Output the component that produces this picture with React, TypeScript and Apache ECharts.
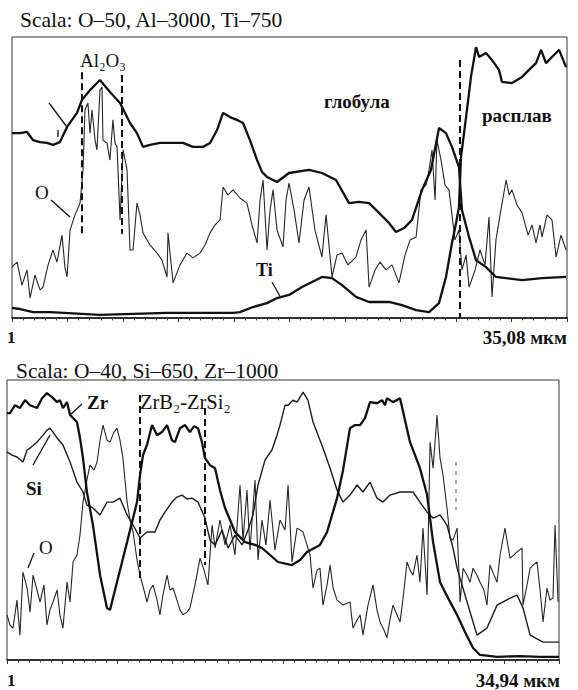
import React, { useEffect, useRef } from "react";
import * as echarts from "echarts";

// ---- data (x in µm along the scan, y in relative intensity 0..100) ----
const topScanLength = 35.08;
const bottomScanLength = 34.94;
const topTitle = "Scala: O–50, Al–3000, Ti–750";
const bottomTitle = "Scala: O–40, Si–650, Zr–1000";
const topEndLabel = "35,08 мкм";
const bottomEndLabel = "34,94 мкм";
const startLabel = "1";

const topAl: [number, number][] = [
  [0, 65.8], [0.51, 65.8], [0.95, 66.2], [1.33, 63.3], [1.77, 62.6], [2.21, 62.3], [2.59, 61.6],
  [3.03, 62.6], [3.48, 68.0], [4.11, 73.0], [4.42, 77.6], [4.93, 81.1], [5.56, 84.7], [6.19, 80.4],
  [6.83, 76.5], [7.46, 69.4], [7.9, 65.8], [8.28, 60.9], [8.72, 61.6], [9.36, 62.3], [9.99, 62.3],
  [10.81, 62.3], [11.44, 60.9], [12.07, 60.9], [12.52, 62.3], [12.96, 66.9], [13.34, 73.0],
  [13.78, 71.5], [14.22, 70.5], [14.6, 69.4], [15.04, 63.3], [15.49, 56.2], [15.8, 52.0],
  [16.12, 50.2], [16.75, 48.4], [17.51, 51.6], [18.77, 52.7], [19.59, 51.6], [20.48, 49.1],
  [21.3, 40.9], [21.93, 41.3], [22.57, 40.9], [23.2, 37.4], [23.83, 33.8], [24.27, 30.6],
  [24.78, 32.0], [25.28, 34.9], [25.92, 45.6], [26.48, 52.7], [26.99, 67.6], [27.43, 65.8],
  [27.81, 60.9], [28.25, 53.7], [28.44, 38.4], [28.89, 28.8], [29.33, 20.6], [29.96, 18.1],
  [30.59, 14.6], [32.24, 13.5], [33.5, 14.2], [35.02, 14.6],
];

const topTi: [number, number][] = [
  [0, 3.6], [0.51, 3.2], [1.33, 2.1], [2.4, 2.1], [5.56, 1.1], [9.8, 1.8], [13.97, 1.8],
  [14.41, 2.1], [15.23, 3.9], [16.12, 5.3], [16.75, 7.1], [17.51, 8.2], [18.33, 11.0],
  [19.22, 13.5], [19.59, 14.6], [20.23, 14.2], [20.86, 11.7], [21.74, 7.5], [22.57, 5.7],
  [23.83, 5.7], [24.65, 4.6], [25.54, 2.8], [26.36, 2.1], [26.99, 5.3], [27.43, 14.6],
  [27.81, 26.7], [28.07, 33.8], [28.25, 39.5], [28.38, 57.3], [28.7, 71.5], [29.01, 85.8],
  [29.33, 96.4], [29.52, 92.9], [29.96, 94.3], [30.34, 91.8], [30.78, 88.3], [30.97, 84.0],
  [31.6, 83.6], [32.24, 85.8], [32.68, 88.3], [33.12, 90.7], [33.44, 95.4], [33.75, 90.7],
  [34.13, 92.9], [34.58, 95.4], [35.02, 89.3],
];

const topO: [number, number][] = [
  [0, 18.2], [0.32, 19.9], [0.63, 11.7], [0.95, 17.1], [1.14, 7.1], [1.45, 15.3], [1.77, 10.0],
  [1.96, 11.0], [2.28, 18.9], [2.59, 24.2], [2.84, 19.9], [3.16, 29.5], [3.35, 17.8], [3.48, 14.6],
  [3.67, 31.3], [3.98, 36.7], [4.3, 40.9], [4.49, 52.7], [4.61, 74.0], [4.8, 76.5], [4.93, 65.8],
  [5.06, 74.0], [5.25, 63.3], [5.37, 59.8], [5.56, 81.1], [5.69, 82.2], [5.75, 63.3], [6.0, 62.3],
  [6.19, 56.2], [6.38, 70.5], [6.51, 62.3], [6.64, 60.9], [6.83, 34.9], [7.02, 59.8], [7.27, 52.7],
  [7.46, 24.2], [7.65, 24.2], [7.9, 40.9], [8.09, 36.7], [8.28, 30.3], [8.72, 26.0], [9.17, 23.1],
  [9.48, 20.6], [9.8, 14.6], [9.86, 30.3], [10.18, 12.5], [10.62, 18.9], [11.06, 23.1],
  [11.44, 21.4], [11.88, 23.1], [12.2, 26.0], [12.52, 30.3], [12.83, 33.1], [13.15, 34.9],
  [13.34, 46.6], [13.65, 43.8], [13.97, 45.6], [14.41, 42.7], [14.85, 40.9], [15.17, 33.1],
  [15.49, 26.7], [15.68, 42.0], [15.87, 49.1], [16.12, 24.2], [16.31, 38.4], [16.5, 45.6],
  [16.75, 31.3], [17.13, 25.3], [17.32, 42.0], [17.51, 48.0], [17.83, 38.4], [18.14, 26.7],
  [18.46, 42.0], [18.77, 46.6], [19.15, 31.3], [19.59, 21.7], [19.85, 36.7], [20.23, 14.6],
  [20.54, 22.4], [20.86, 23.1], [21.24, 18.9], [21.74, 21.7], [22.06, 27.8], [22.38, 31.3],
  [22.57, 11.0], [22.95, 17.1], [23.26, 19.9], [23.64, 17.1], [24.02, 18.9], [24.46, 12.5],
  [24.84, 22.4], [25.16, 27.8], [25.54, 28.8], [25.85, 45.6], [26.17, 47.3], [26.36, 52.7],
  [26.55, 59.8], [26.74, 42.0], [26.86, 63.3], [27.12, 56.2], [27.37, 47.3], [27.62, 45.6],
  [28.0, 27.8], [28.25, 31.3], [28.44, 17.1], [28.7, 22.4], [28.89, 11.0], [29.27, 17.1],
  [29.58, 24.2], [29.9, 18.9], [30.15, 35.9], [30.34, 7.5], [30.59, 27.8], [30.85, 36.7],
  [31.23, 49.1], [31.42, 43.8], [31.6, 45.6], [31.92, 40.2], [32.24, 37.4], [32.62, 29.5],
  [32.87, 33.1], [33.12, 26.7], [33.37, 33.1], [33.5, 28.8], [33.82, 36.7], [34.13, 34.9],
  [34.39, 21.7], [34.7, 29.5], [35.02, 24.2],
];

const bottomZr: [number, number][] = [
  [0, 88.2], [0.19, 88.2], [0.51, 91.0], [0.82, 90.0], [1.14, 92.8], [1.46, 91.0], [1.9, 90.0],
  [2.22, 93.5], [2.53, 95.3], [2.85, 93.9], [3.17, 92.1], [3.35, 92.8], [3.54, 90.0], [3.8, 92.1],
  [3.99, 87.5], [4.43, 85.0], [4.62, 79.3], [4.81, 72.1], [5.06, 60.0], [5.44, 48.2], [5.89, 30.3],
  [6.33, 18.6], [6.52, 17.9], [6.96, 27.8], [7.6, 42.1], [8.23, 56.4], [8.42, 66.0], [8.61, 73.2],
  [8.86, 76.8], [9.18, 83.9], [9.5, 80.3], [9.81, 81.4], [10.13, 83.9], [10.44, 78.5],
  [10.63, 77.8], [10.95, 82.8], [11.27, 83.9], [11.58, 81.4], [11.84, 83.5], [12.09, 82.8],
  [12.34, 77.8], [12.53, 72.1], [12.85, 69.6], [13.17, 68.5], [13.48, 60.7], [13.8, 54.3],
  [14.12, 50.0], [14.43, 45.7], [15.07, 42.1], [15.7, 41.1], [16.14, 40.0], [16.65, 37.5],
  [17.15, 35.0], [18.04, 33.9], [18.55, 35.7], [18.99, 38.6], [19.81, 41.1], [20.26, 45.7],
  [20.89, 57.8], [21.27, 67.8], [21.71, 82.8], [22.03, 83.9], [22.35, 83.9], [22.66, 86.4],
  [22.98, 92.1], [23.42, 91.7], [23.74, 92.8], [23.93, 91.0], [24.05, 93.5], [24.43, 92.1],
  [24.88, 93.5], [25.19, 85.7], [25.51, 77.8], [26.14, 68.5], [26.59, 58.9], [26.97, 42.1],
  [27.41, 27.8], [27.92, 22.1], [28.49, 16.1], [28.99, 10.0], [29.5, 4.3], [29.94, 1.8],
  [31.02, 1.1], [32.47, 1.4], [33.74, 1.1], [34.94, 1.1],
];

const bottomSi: [number, number][] = [
  [0, 74.3], [0.32, 73.2], [0.63, 72.5], [1.01, 70.7], [1.27, 75.0], [1.46, 75.7], [1.9, 77.8],
  [2.28, 80.3], [2.53, 82.1], [2.72, 82.8], [2.91, 81.4], [3.17, 79.3], [3.54, 76.8], [3.99, 70.7],
  [4.43, 63.5], [4.81, 60.0], [5.06, 55.3], [5.44, 54.3], [5.89, 51.8], [6.33, 56.4], [6.71, 56.4],
  [7.15, 57.8], [7.6, 51.8], [7.98, 48.2], [8.42, 43.6], [8.86, 45.7], [9.37, 45.7], [9.68, 50.0],
  [10.0, 52.8], [10.44, 56.4], [10.76, 58.2], [11.08, 58.9], [11.39, 57.5], [11.71, 57.8],
  [12.09, 56.4], [12.53, 50.7], [12.85, 42.8], [13.17, 41.1], [13.61, 46.4], [14.0, 40.0],
  [14.43, 44.6], [14.88, 41.1], [15.26, 46.4], [15.57, 51.8], [15.89, 62.5], [16.33, 71.4],
  [16.77, 75.0], [17.09, 80.3], [17.28, 83.9], [17.6, 91.0], [17.79, 91.0], [18.1, 92.8],
  [18.36, 92.1], [18.74, 95.7], [19.05, 92.8], [19.37, 85.0], [19.69, 80.3], [20.0, 75.7],
  [20.45, 68.5], [20.89, 60.7], [21.27, 56.4], [21.71, 58.9], [22.16, 62.5], [22.53, 60.0],
  [22.98, 63.5], [23.42, 57.8], [23.8, 56.4], [24.24, 58.9], [24.88, 60.0], [25.7, 60.0],
  [26.14, 56.4], [26.59, 52.8], [26.97, 50.7], [27.41, 51.8], [27.85, 48.2], [28.23, 40.0],
  [28.49, 32.8], [29.12, 20.7], [29.75, 8.9], [30.38, 11.4], [31.02, 19.6], [31.84, 22.1],
  [32.28, 23.2], [32.66, 18.6], [33.11, 8.9], [33.93, 6.4], [34.94, 6.4],
];

const bottomO: [number, number][] = [
  [0, 16.1], [0.19, 12.5], [0.38, 11.4], [0.63, 21.4], [0.82, 8.9], [1.01, 31.4], [1.27, 25.7],
  [1.46, 17.1], [1.65, 30.3], [1.9, 25.0], [2.09, 20.7], [2.34, 26.8], [2.53, 12.5], [2.72, 17.9],
  [2.91, 20.7], [3.17, 25.0], [3.35, 16.1], [3.54, 11.4], [3.8, 27.8], [3.99, 20.7], [4.18, 35.0],
  [4.43, 37.5], [4.62, 44.6], [4.81, 56.4], [5.06, 64.3], [5.25, 69.6], [5.51, 67.8], [5.7, 70.7],
  [5.89, 78.5], [6.08, 83.9], [6.33, 78.5], [6.52, 77.8], [6.77, 81.4], [6.96, 82.8], [7.15, 78.5],
  [7.34, 72.1], [7.6, 56.4], [7.79, 50.0], [7.98, 45.7], [8.23, 35.7], [8.42, 30.3], [8.67, 25.0],
  [8.86, 20.7], [9.05, 25.0], [9.24, 26.8], [9.5, 21.4], [9.68, 16.1], [9.87, 23.2], [10.13, 30.3],
  [10.32, 25.0], [10.51, 25.7], [10.76, 21.4], [10.95, 17.9], [11.14, 16.1], [11.39, 17.1],
  [11.58, 18.6], [11.9, 26.8], [12.22, 36.4], [12.47, 32.1], [12.72, 26.8], [12.98, 48.2],
  [13.17, 40.0], [13.48, 50.0], [13.8, 41.1], [14.12, 48.2], [14.43, 37.5], [14.75, 62.5],
  [14.94, 42.8], [15.19, 60.7], [15.38, 39.3], [15.7, 64.3], [15.89, 35.7], [16.14, 50.0],
  [16.39, 41.1], [16.65, 57.1], [16.96, 39.3], [17.28, 50.0], [17.6, 46.4], [17.79, 62.5],
  [18.04, 35.0], [18.36, 47.1], [18.74, 45.7], [19.18, 37.5], [19.37, 25.7], [19.62, 32.1],
  [19.81, 32.8], [20.0, 19.6], [20.26, 26.8], [20.45, 33.9], [20.64, 25.7], [20.89, 21.4],
  [21.27, 19.6], [21.71, 20.7], [21.9, 11.4], [22.16, 14.3], [22.35, 16.1], [22.53, 8.9],
  [22.85, 19.6], [23.17, 26.8], [23.42, 17.9], [23.61, 13.6], [23.86, 10.7], [24.05, 7.9],
  [24.24, 14.3], [24.43, 19.6], [24.69, 16.1], [24.88, 13.6], [25.13, 25.0], [25.32, 35.0],
  [25.51, 32.1], [25.7, 30.3], [25.95, 37.5], [26.14, 27.8], [26.33, 47.1], [26.59, 23.2],
  [26.78, 77.8], [26.97, 68.5], [27.22, 87.5], [27.41, 72.1], [27.6, 66.0], [27.85, 54.3],
  [28.04, 43.6], [28.23, 42.8], [28.49, 47.1], [28.68, 20.7], [28.87, 32.8], [29.12, 30.3],
  [29.31, 27.8], [29.5, 32.8], [29.75, 30.3], [29.94, 27.8], [30.19, 25.0], [30.38, 19.6],
  [30.57, 33.9], [30.83, 30.3], [31.02, 27.8], [31.21, 37.5], [31.52, 47.1], [31.84, 36.4],
  [32.09, 37.5], [32.28, 38.6], [32.6, 40.0], [32.66, 19.6], [32.92, 26.8], [33.11, 32.8],
  [33.3, 33.9], [33.55, 35.0], [33.74, 25.0], [33.93, 13.6], [34.18, 25.7], [34.37, 21.4],
  [34.56, 22.1], [34.69, 48.2], [34.88, 20.7],
];

// dashed phase boundaries: [x, yTop, yBottom]
const topDashes: [number, number, number][] = [
  [4.42, 87.5, 30],
  [6.95, 86.5, 30],
  [28.32, 91.8, 0],
];
const bottomDashes: [number, number, number][] = [
  [8.42, 94.6, 28.6],
  [12.53, 90.0, 33.9],
];
const bottomFaintDashes: [number, number, number][] = [[28.42, 70.7, 53.6]];

const SERIF = "'Liberation Serif', 'DejaVu Serif', serif";
const INK = "#111";

function dashLines(list: [number, number, number][]) {
  return list.map(([x, y1, y2]) => [{ coord: [x, y1] }, { coord: [x, y2] }]);
}

function text(t: string, x: number, y: number, size: number, weight = "normal", align = "left") {
  return {
    type: "text",
    x,
    y,
    silent: true,
    style: {
      text: t,
      fill: INK,
      font: `${weight} ${size}px ${SERIF}`,
      textAlign: align,
      textVerticalAlign: "middle",
      align,
      verticalAlign: "middle",
    },
  };
}

function leader(x1: number, y1: number, x2: number, y2: number) {
  return {
    type: "line",
    silent: true,
    shape: { x1, y1, x2, y2 },
    style: { stroke: INK, lineWidth: 1.3 },
  };
}

function xAxisFor(gridIndex: number, max: number) {
  return {
    type: "value",
    gridIndex,
    min: 0,
    max,
    interval: max / 10,
    axisLine: { show: true, lineStyle: { color: INK, width: 1.6 } },
    axisTick: { show: true, length: 4, lineStyle: { color: "#333", width: 1 } },
    minorTick: { show: true, splitNumber: 5, length: 2.5, lineStyle: { color: "#444" } },
    axisLabel: { show: false },
    splitLine: { show: false },
  };
}

function yAxisFor(gridIndex: number) {
  return { type: "value", gridIndex, min: 0, max: 100, show: false };
}

export default function App() {
  const ref = useRef<HTMLDivElement>(null);

  useEffect(() => {
    if (!ref.current) return;
    const chart = echarts.init(ref.current, undefined, { renderer: "svg" });

    const thin = { width: 1.1, color: "#262626" };
    const thick = { width: 2.3, color: INK };
    const medium = { width: 1.4, color: "#1c1c1c" };

    chart.setOption({
      animation: false,
      backgroundColor: "#ffffff",
      grid: [
        { left: 12, top: 37, width: 555, height: 281, show: true, borderColor: "#333", borderWidth: 1, backgroundColor: "transparent" },
        { left: 7, top: 380, width: 552, height: 280, show: true, borderColor: "#333", borderWidth: 1, backgroundColor: "transparent" },
      ],
      xAxis: [xAxisFor(0, topScanLength), xAxisFor(1, bottomScanLength)],
      yAxis: [yAxisFor(0), yAxisFor(1)],
      series: [
        {
          name: "O", type: "line", xAxisIndex: 0, yAxisIndex: 0, data: topO,
          showSymbol: false, lineStyle: thin, z: 2,
          markLine: {
            silent: true, symbol: "none", label: { show: false },
            lineStyle: { type: [7, 4], color: INK, width: 2 },
            data: dashLines(topDashes),
          },
        },
        { name: "Al", type: "line", xAxisIndex: 0, yAxisIndex: 0, data: topAl, showSymbol: false, lineStyle: thick, z: 3 },
        { name: "Ti", type: "line", xAxisIndex: 0, yAxisIndex: 0, data: topTi, showSymbol: false, lineStyle: thick, z: 3 },
        {
          name: "O ", type: "line", xAxisIndex: 1, yAxisIndex: 1, data: bottomO,
          showSymbol: false, lineStyle: thin, z: 2,
          markLine: {
            silent: true, symbol: "none", label: { show: false },
            lineStyle: { type: [7, 4], color: INK, width: 2 },
            data: dashLines(bottomDashes),
          },
        },
        {
          name: "Si", type: "line", xAxisIndex: 1, yAxisIndex: 1, data: bottomSi,
          showSymbol: false, lineStyle: medium, z: 3,
          markLine: {
            silent: true, symbol: "none", label: { show: false },
            lineStyle: { type: [4, 5], color: "#888", width: 1.5 },
            data: dashLines(bottomFaintDashes),
          },
        },
        { name: "Zr", type: "line", xAxisIndex: 1, yAxisIndex: 1, data: bottomZr, showSymbol: false, lineStyle: thick, z: 3 },
      ],
      graphic: [
        text(topTitle, 20, 20, 21.5),
        text("Al₂O₃", 80, 60, 19),
        text("глобула", 324, 101, 19, "bold"),
        text("расплав", 482, 115, 19, "bold"),
        text("O", 35, 192, 19),
        text("Ti", 256, 270, 18, "bold"),
        leader(49, 103, 67, 127),
        leader(58, 130, 58, 137),
        leader(51, 200, 70, 217),
        leader(272, 282, 281, 298),
        text(startLabel, 7, 337, 17, "bold"),
        text(topEndLabel, 567, 337, 19, "bold", "right"),
        text(bottomTitle, 16, 371, 21.5),
        text("Zr", 87, 402, 19, "bold"),
        text("ZrB₂-ZrSi₂", 140, 402, 20.5),
        text("Si", 26, 488, 19, "bold"),
        text("O", 39, 547, 19),
        leader(70, 415, 82, 404),
        leader(33, 465, 50, 435),
        leader(28, 568, 34, 553),
        text(startLabel, 7, 680, 17, "bold"),
        text(bottomEndLabel, 560, 680, 19, "bold", "right"),
      ],
    });

    return () => chart.dispose();
  }, []);

  return (
    <div
      ref={ref}
      style={{ position: "absolute", left: 0, top: 0, width: 578, height: 690, background: "#fff" }}
    />
  );
}
